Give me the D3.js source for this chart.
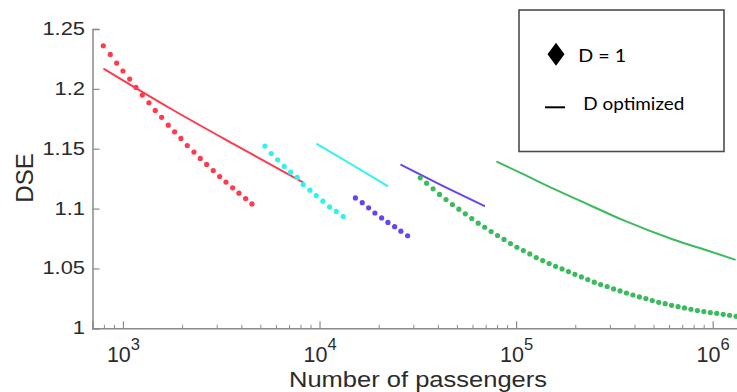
<!DOCTYPE html>
<html>
<head>
<meta charset="utf-8">
<script src="https://cdn.jsdelivr.net/npm/d3@7"></script>
<style>
  html, body { margin: 0; padding: 0; background: #fff; }
  svg { display: block; }
</style>
</head>
<body>
<svg id="chart" width="737" height="392"></svg>
<script>
// DSE vs. number of passengers, one colour per network size band.
// Dotted series: D = 1; solid lines: D optimized.

const redN   = [794, 862, 929, 1000, 1082, 1165, 1254, 1356, 1460, 1573, 1700, 1832, 1972, 2124, 2297, 2474, 2665, 2879, 3104, 3342, 3614, 3891, 4209, 4531];
const redDSE = [1.2360, 1.2288, 1.2215, 1.2149, 1.2082, 1.2012, 1.1948, 1.1884, 1.1820, 1.1762, 1.1697, 1.1641, 1.1586, 1.1527, 1.1472, 1.1419, 1.1369, 1.1318, 1.1268, 1.1221, 1.1173, 1.1129, 1.1084, 1.1039];
const redOptN   = [803, 1734, 3757, 8204];
const redOptDSE = [1.2165, 1.1838, 1.1528, 1.1221];

const cyanN   = [5277, 5679, 6121, 6613, 7129, 7701, 8264, 8937, 9622, 10406, 11257, 12162, 13200];
const cyanDSE = [1.1522, 1.1460, 1.1407, 1.1352, 1.1304, 1.1260, 1.1201, 1.1154, 1.1109, 1.1062, 1.1014, 1.0976, 1.0934];
const cyanOptN   = [9730, 14660, 22100];
const cyanOptDSE = [1.1538, 1.1366, 1.1190];

const purpleN   = [15225, 16491, 17772, 19129, 20696, 22284, 24099, 25942, 28059];
const purpleDSE = [1.1089, 1.1049, 1.1006, 1.0963, 1.0922, 1.0884, 1.0849, 1.0811, 1.0773];
const purpleOptN   = [26030, 42330, 68800];
const purpleOptDSE = [1.1365, 1.1190, 1.1022];

const greenN = [32520, 35070, 37820, 40790, 43990, 47440, 51160, 55170, 59500, 64170,
                69200, 74630, 80480, 86790, 93600, 100940, 108860, 117400, 126600, 136530,
                147240, 158790, 171250, 184680, 199160, 214780, 231630, 249790, 269380, 290510,
                313290, 337870, 364370, 392950, 423770, 457010, 492850, 531510, 573200, 618160,
                666640, 718930, 775320, 836130, 901720, 972440, 1048720, 1130970, 1219680, 1315350];
const greenDSE = [1.1257, 1.1212, 1.1165, 1.1118, 1.1076, 1.1034, 1.0995, 1.0956, 1.0917, 1.0878,
                  1.0844, 1.0808, 1.0775, 1.0742, 1.0708, 1.0677, 1.0650, 1.0621, 1.0591, 1.0566,
                  1.0541, 1.0518, 1.0496, 1.0474, 1.0451, 1.0429, 1.0407, 1.0385, 1.0365, 1.0349,
                  1.0329, 1.0312, 1.0295, 1.0278, 1.0262, 1.0248, 1.0232, 1.0217, 1.0206, 1.0192,
                  1.0181, 1.0170, 1.0159, 1.0148, 1.0140, 1.0131, 1.0125, 1.0117, 1.0109, 1.0100];
const greenOptN   = [80150, 108670, 160700, 237400, 350500, 629500, 931000, 1297000];
const greenOptDSE = [1.1390, 1.1287, 1.1154, 1.1028, 1.0903, 1.0742, 1.0652, 1.0574];

const yTicks = [1, 1.05, 1.1, 1.15, 1.2, 1.25];
const yTickLabels = ["1", "1.05", "1.1", "1.15", "1.2", "1.25"];
const xMajorTicks = [1e3, 1e4, 1e5, 1e6];
const xTickExponents = ["3", "4", "5", "6"];
const legendLabels = ["D = 1", "D optimized"];
const xTitle = "Number of passengers";
const yTitle = "DSE";

const series = [
  { n: redN,    v: redDSE,    on: redOptN,    ov: redOptDSE,    color: "#ff3a4c" },
  { n: cyanN,   v: cyanDSE,   on: cyanOptN,   ov: cyanOptDSE,   color: "#2cf2f2" },
  { n: purpleN, v: purpleDSE, on: purpleOptN, ov: purpleOptDSE, color: "#6a42f2" },
  { n: greenN,  v: greenDSE,  on: greenOptN,  ov: greenOptDSE,  color: "#3cba5e" }
];

const svg = d3.select("#chart");
const W = 737, H = 392;
svg.append("rect").attr("width", W).attr("height", H).attr("fill", "#fff");

// Log x scale: one decade ≈ 196.6 px, axis starting at 700 passengers
const x = d3.scaleLog().domain([700, 1.4e6]).range([92.5, 741.4]);
const y = d3.scaleLinear().domain([1, 1.25]).range([328.3, 29]);

const axisColor = "#8a8a8a";
const textColor = "#2b2b2b";
const font = "'Liberation Sans', Arial, Helvetica, sans-serif";

// ---- y axis (ticks point inward) ----
const yAxis = svg.append("g")
  .attr("transform", `translate(${x.range()[0]},0)`)
  .call(d3.axisLeft(y).tickValues(yTicks).tickSize(-7).tickFormat(""));
yAxis.select(".domain").attr("stroke", axisColor).attr("stroke-width", 1.5);
yAxis.selectAll(".tick line").attr("stroke", axisColor).attr("stroke-width", 1.2);

yTicks.forEach((t, i) => {
  const txt = svg.append("text")
    .attr("x", 85).attr("y", y(t))
    .attr("text-anchor", "end").attr("dominant-baseline", "central")
    .attr("font-family", font).attr("font-size", 17.5).attr("fill", textColor)
    .text(yTickLabels[i]);
  const len = txt.node().getComputedTextLength();
  txt.attr("textLength", len * 1.25).attr("lengthAdjust", "spacingAndGlyphs");
});

// ---- x axis: major decades + minor ticks, all inward ----
const xMinor = [];
for (let e = 2; e <= 6; e++) {
  for (let k = 2; k <= 9; k++) {
    const v = k * Math.pow(10, e);
    if (v >= x.domain()[0] && v <= x.domain()[1]) xMinor.push(v);
  }
}
const xAxisMinor = svg.append("g")
  .attr("transform", `translate(0,${y.range()[0]})`)
  .call(d3.axisBottom(x).tickValues(xMinor).tickSize(-3.5).tickFormat(""));
xAxisMinor.select(".domain").remove();
xAxisMinor.selectAll(".tick line").attr("stroke", axisColor).attr("stroke-width", 1);

const xAxis = svg.append("g")
  .attr("transform", `translate(0,${y.range()[0]})`)
  .call(d3.axisBottom(x).tickValues(xMajorTicks).tickSize(-7).tickFormat(""));
xAxis.select(".domain").attr("stroke", axisColor).attr("stroke-width", 1.5);
xAxis.selectAll(".tick line").attr("stroke", axisColor).attr("stroke-width", 1.2);

xMajorTicks.forEach((t, i) => {
  const g = svg.append("text")
    .attr("x", x(t) + 0.5).attr("y", 361.7)
    .attr("text-anchor", "middle")
    .attr("font-family", font).attr("fill", textColor);
  g.append("tspan").attr("font-size", 21.5).text("10");
  g.append("tspan").attr("font-size", 16.5).attr("dy", -11.5).text(xTickExponents[i]);
});

// ---- axis titles ----
svg.append("text")
  .attr("x", 418).attr("y", 387)
  .attr("text-anchor", "middle")
  .attr("font-family", font).attr("font-size", 22.5).attr("fill", textColor)
  .attr("textLength", 258).attr("lengthAdjust", "spacingAndGlyphs")
  .text(xTitle);

svg.append("text")
  .attr("transform", "translate(33,178) rotate(-90)")
  .attr("text-anchor", "middle")
  .attr("font-family", font).attr("font-size", 24).attr("fill", textColor)
  .text(yTitle);

// ---- data ----
const line = d3.line().x(d => x(d[0])).y(d => y(d[1])).curve(d3.curveMonotoneX);

series.forEach(s => {
  const opt = s.on.map((n, i) => [n, s.ov[i]]);
  svg.append("path")
    .datum(opt)
    .attr("d", line)
    .attr("fill", "none")
    .attr("stroke", s.color)
    .attr("stroke-width", 2)
    .attr("stroke-linecap", "round");
});

series.forEach(s => {
  const pts = s.n.map((n, i) => [n, s.v[i]]);
  svg.append("g").selectAll("circle")
    .data(pts)
    .join("circle")
    .attr("cx", d => x(d[0]))
    .attr("cy", d => y(d[1]))
    .attr("r", 2.6)
    .attr("fill", s.color);
});

// ---- legend ----
const lg = svg.append("g");
lg.append("rect")
  .attr("x", 519).attr("y", 10).attr("width", 205).attr("height", 141.5)
  .attr("fill", "#fff").attr("stroke", "#4d4d4d").attr("stroke-width", 1.6);

lg.append("path")
  .attr("d", "M556,42.8 L564.5,54.3 L556,65.8 L547.5,54.3 Z")
  .attr("fill", "#000");
lg.append("line")
  .attr("x1", 545).attr("x2", 565).attr("y1", 107.3).attr("y2", 107.3)
  .attr("stroke", "#000").attr("stroke-width", 2);

const legendFont = "Lato, 'Open Sans', sans-serif";
lg.append("text")
  .attr("x", 578.3).attr("y", 61.7)
  .attr("font-family", legendFont).attr("font-size", 18).attr("fill", "#000")
  .attr("textLength", 48).attr("lengthAdjust", "spacingAndGlyphs")
  .text(legendLabels[0]);
lg.append("text")
  .attr("x", 583.3).attr("y", 110)
  .attr("font-family", legendFont).attr("font-size", 18).attr("fill", "#000")
  .attr("textLength", 101).attr("lengthAdjust", "spacingAndGlyphs")
  .text(legendLabels[1]);
</script>
</body>
</html>
